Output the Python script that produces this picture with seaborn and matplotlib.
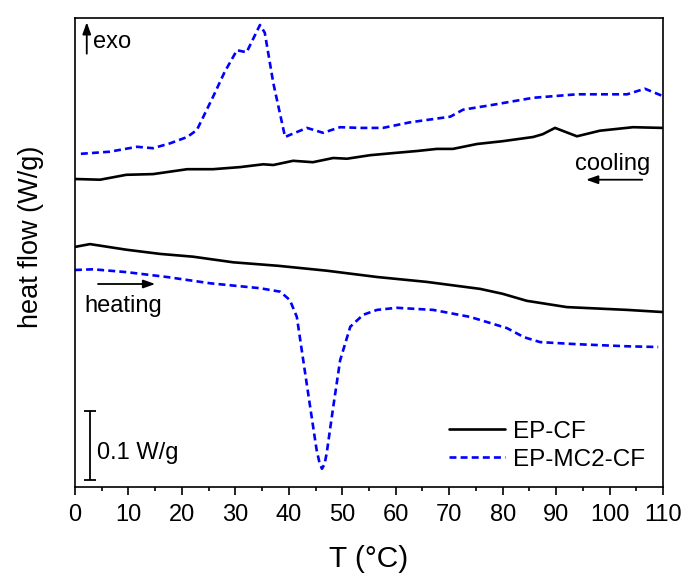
import numpy as np
import pandas as pd
import matplotlib
matplotlib.use("Agg")
import matplotlib.pyplot as plt
import seaborn as sns
from matplotlib.ticker import MultipleLocator

# ---- data (heat flow in W/g, curves offset as in the figure) ----
cool_cf_T = [0, 4.7, 9.6, 14.6, 21, 25.8, 30.9, 35.2, 37.1, 40.8, 44.5, 48.3, 50.9, 55.2,
             59.5, 64, 67.7, 70.7, 75.2, 80, 85.7, 87.5, 89.8, 93.9, 98.2, 104.4, 109.8]
cool_cf_q = [0.440, 0.439, 0.446, 0.447, 0.454, 0.454, 0.457, 0.461, 0.460, 0.466, 0.464, 0.470, 0.469, 0.474,
             0.477, 0.480, 0.483, 0.483, 0.490, 0.494, 0.500, 0.504, 0.513, 0.501, 0.509, 0.514, 0.513]

cool_mc_T = [1.1, 6.5, 11.6, 14.6, 17.8, 21, 22.8, 25.8, 28, 30.3, 32.1, 34.6, 35.5, 37.1, 39.3,
             40.2, 43.4, 46.4, 49.6, 53.3, 57.6, 62.7, 70.2, 72.6, 78.2, 85.7, 93.9, 103.3, 106.6, 109.8]
cool_mc_q = [0.476, 0.479, 0.486, 0.484, 0.491, 0.500, 0.510, 0.557, 0.593, 0.624, 0.621, 0.660, 0.649, 0.577, 0.500,
             0.503, 0.513, 0.506, 0.514, 0.513, 0.513, 0.521, 0.529, 0.539, 0.546, 0.556, 0.561, 0.561, 0.569, 0.559]

heat_cf_T = [0, 2.8, 9.6, 15.9, 22.1, 29.6, 38, 47.1, 56.5, 65.8, 75.8, 80, 84.5, 92, 103.3, 109.8]
heat_cf_q = [0.343, 0.347, 0.339, 0.333, 0.329, 0.321, 0.316, 0.309, 0.300, 0.293, 0.283, 0.276, 0.266,
             0.257, 0.253, 0.250]

heat_mc_T = [0, 3.4, 9.6, 17.2, 25.3, 34.6, 38.4, 40.2, 41.5, 42.7, 44, 45.2, 45.7, 46.2, 46.7, 47.1,
             48.3, 49.6, 51.5, 53.9, 56.5, 60.2, 67, 73.9, 80.8, 84, 87, 93.9, 103.3, 109.1]
heat_mc_q = [0.310, 0.311, 0.307, 0.300, 0.291, 0.284, 0.279, 0.267, 0.243, 0.181, 0.114, 0.053, 0.036, 0.026,
             0.033, 0.049, 0.114, 0.181, 0.229, 0.246, 0.253, 0.256, 0.253, 0.243, 0.227, 0.214, 0.207,
             0.204, 0.201, 0.200]

series_names = ["EP-CF", "EP-MC2-CF"]
x_ticks = list(range(0, 111, 10))

# ---- style ----
sns.set_style("ticks")
plt.rcParams['font.family'] = ['Liberation Sans', 'DejaVu Sans']
plt.rcParams['lines.scale_dashes'] = False
plt.rcParams['text.color'] = 'black'
plt.rcParams['axes.labelcolor'] = 'black'
plt.rcParams['xtick.color'] = 'black'
plt.rcParams['ytick.color'] = 'black'

fig = plt.figure(figsize=(6.86, 5.73), dpi=100)
ax = fig.add_axes([75/686, 1-487/573, (663-75)/686, (487-18)/573])

lw = 1.9
blue = (0, 0, 1)
sns.lineplot(x=cool_cf_T, y=cool_cf_q, ax=ax, color="black", lw=lw, sort=False, label=series_names[0])
sns.lineplot(x=cool_mc_T, y=cool_mc_q, ax=ax, color=blue, lw=lw, sort=False, label=series_names[1],
             linestyle=(0, (5, 3)))
sns.lineplot(x=heat_cf_T, y=heat_cf_q, ax=ax, color="black", lw=lw, sort=False)
sns.lineplot(x=heat_mc_T, y=heat_mc_q, ax=ax, color=blue, lw=lw, sort=False, linestyle=(0, (5, 3)))

ax.set_xlim(0, 110)
ax.set_ylim(0, 0.67)
ax.set_xticks(x_ticks)
ax.xaxis.set_minor_locator(MultipleLocator(5))
ax.set_yticks([])
ax.tick_params(axis='x', which='major', direction='out', length=6, width=1.2, labelsize=17, pad=6,
               colors='black')
ax.tick_params(axis='x', which='minor', direction='out', length=3, width=1.2, colors='black')
for s in ax.spines.values():
    s.set_linewidth(1.2)
    s.set_visible(True)
    s.set_color("black")

ax.set_xlabel("T (°C)", fontsize=21.5, labelpad=14, color='black')
ax.set_ylabel("heat flow (W/g)", fontsize=19.5, color='black')
ax.yaxis.set_label_coords(-0.052, 0.533)

fs = 17
arrow_kw = dict(arrowstyle='-|>,head_length=0.7,head_width=0.25', color='black', lw=1.3, shrinkA=0, shrinkB=0)
# exo
ax.annotate("", xy=(2.2, 0.664), xytext=(2.2, 0.619), arrowprops=arrow_kw)
ax.text(3.4, 0.636, "exo", fontsize=fs, va='center', ha='left')
# heating
ax.annotate("", xy=(15.0, 0.290), xytext=(4.3, 0.290), arrowprops=arrow_kw)
ax.text(1.8, 0.258, "heating", fontsize=fs, va='center', ha='left')
# cooling
ax.annotate("", xy=(95.6, 0.439), xytext=(106.1, 0.439), arrowprops=arrow_kw)
ax.text(100.5, 0.462, "cooling", fontsize=fs, va='center', ha='center')
# scale bar 0.1 W/g
ax.errorbar([2.8], [0.0595], yerr=[0.0495], color='black', capsize=4, elinewidth=1.3, capthick=1.3)
ax.text(4.2, 0.049, "0.1 W/g", fontsize=fs, va='center', ha='left')

leg = ax.legend(loc='lower right', frameon=False, fontsize=17.5, handlelength=2.3,
                handletextpad=0.3, labelspacing=0.25, borderaxespad=0.3, bbox_to_anchor=(0.998, -0.002))
for t in leg.get_texts():
    t.set_color('black')

fig.savefig("out.png", dpi=100)
